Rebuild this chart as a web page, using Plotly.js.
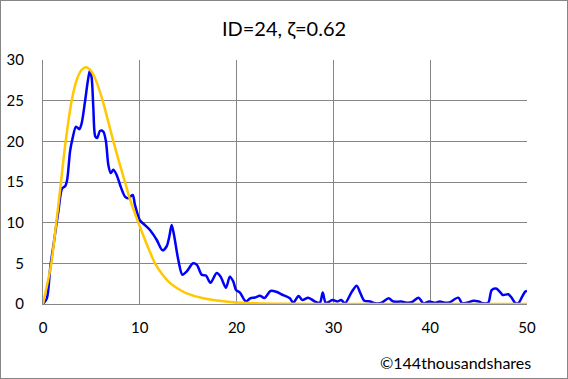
<!DOCTYPE html>
<html>
<head>
<meta charset="utf-8">
<script src="https://cdn.plot.ly/plotly-3.0.1.min.js"></script>
<style>
html,body{margin:0;padding:0;background:#fff;}
#wrap{position:relative;width:568px;height:379px;}
#chart{width:568px;height:379px;}
#frame{position:absolute;left:0;top:0;width:568px;height:379px;box-sizing:border-box;border:1px solid #868686;pointer-events:none;}
</style>
</head>
<body>
<div id="wrap"><div id="chart"></div><div id="frame"></div></div>
<script>
// Observed (blue) series
const blueX = [0,0.4,0.76,1.1,1.6,1.97,2.3,2.5,2.8,3.06,3.41,3.75,3.99,4.34,4.68,4.85,5.03,5.2,5.4,5.6,5.9,6.23,6.5,6.75,7.0,7.26,7.6,8.0,8.47,8.8,9.26,9.5,10.0,10.53,11.05,11.74,12.35,12.78,13.05,13.29,13.53,13.98,14.4,14.85,15.5,15.9,16.4,16.84,17.3,17.94,18.35,18.9,19.3,19.66,19.94,20.35,20.97,21.4,21.9,22.4,22.9,23.5,24.1,24.8,25.5,25.86,26.4,26.8,27.4,28.1,28.6,28.9,29.2,29.6,29.9,30.4,30.8,31.2,31.9,32.4,32.8,33.2,33.8,34.3,35.0,35.7,36.2,37.0,37.7,38.2,38.8,39.3,39.9,40.5,41.0,41.5,42.0,42.9,43.3,43.8,44.5,45.0,45.5,46.0,46.35,46.8,47.2,47.5,48.07,48.4,48.76,49.1,49.5,49.8,50];
const blueY = [0,0.7,4.6,7.4,11.5,14.2,14.5,15.3,18.8,20.4,21.8,21.5,22.2,24.9,27.8,28.7,27.8,24.1,20.6,20.4,21.3,21.2,20.0,17.1,16.1,16.5,15.9,14.5,13.2,13.0,13.4,12.2,10.3,9.7,9.1,7.9,6.6,7.1,8.3,9.7,8.5,5.4,3.6,4.0,5.0,4.8,3.6,3.5,2.6,3.8,3.35,2.0,3.35,2.75,1.73,1.4,0.3,0.7,0.8,1.0,0.75,1.6,1.5,1.1,0.7,0.16,0.98,0.5,0.78,0.3,0.16,1.4,0.16,0.3,0.5,0.3,0.5,0.08,1.5,2.25,1.3,0.4,0.3,0.08,0.16,0.7,0.3,0.3,0.16,0.3,0.78,0.08,0.3,0.16,0.3,0.16,0.2,0.78,0.08,0.16,0.4,0.3,0.08,0.16,1.7,1.9,1.5,1.1,1.2,0.8,0.16,0.08,0.9,1.5,1.6];
// Fitted (yellow) curve
const yelX = [0,0.45,0.86,1.37,1.65,1.86,2.34,2.96,3.5,4.0,4.44,5.0,5.5,6.16,6.7,7.27,7.9,8.47,9.0,9.85,10.5,11.05,11.57,12.3,13.1,14.0,14.85,16.56,19.3,22,25,30,40,50];
const yelY = [0,2.5,5,10,12.8,15,20,25,27.6,28.8,29.1,28.6,27.4,25,22.6,20,17.3,15,12.8,10,8.0,6.4,5,3.7,2.6,1.85,1.3,0.7,0.25,0.08,0.02,0,0,0];
const xTicks = [0,10,20,30,40,50];
const yTicks = [0,5,10,15,20,25,30];
const titleText = 'ID=24, ζ=0.62';
const creditText = '©144thousandshares';

const FONT = 'Lato, "Open Sans", "Liberation Sans", sans-serif';
const grid = '#868686';

const traces = [
  {x: blueX, y: blueY, type: 'scatter', mode: 'lines',
   line: {color: '#0000FF', width: 2.5, shape: 'spline', smoothing: 0.8}, hoverinfo: 'skip'},
  {x: yelX, y: yelY, type: 'scatter', mode: 'lines',
   line: {color: '#FFC800', width: 2.5, shape: 'spline', smoothing: 0.8}, hoverinfo: 'skip'}
];

const layout = {
  width: 568, height: 379,
  margin: {l: 43, r: 41, t: 60, b: 75},
  paper_bgcolor: '#fff', plot_bgcolor: '#fff',
  showlegend: false,
  font: {family: FONT, color: '#000', size: 15},
  title: {text: titleText, x: 0.5, xanchor: 'center', y: 1 - 29/379, yanchor: 'middle', yref: 'container',
          font: {family: FONT, size: 20, color: '#000'}},
  xaxis: {range: [0, 50], tickvals: xTicks, ticktext: xTicks.map(String), showgrid: true, gridcolor: grid, gridwidth: 1,
          showline: true, linecolor: grid, linewidth: 1, zeroline: false, ticks: '', ticklabelstandoff: 10,
          tickfont: {family: FONT, size: 15, color: '#000'}, fixedrange: true},
  yaxis: {range: [0, 30], tickvals: yTicks, ticktext: yTicks.map(String), showgrid: true, gridcolor: grid, gridwidth: 1,
          showline: true, linecolor: grid, linewidth: 1, zeroline: false, ticks: '', ticklabelstandoff: 15,
          tickfont: {family: FONT, size: 15, color: '#000'}, fixedrange: true},
  annotations: [{text: creditText, xref: 'paper', yref: 'paper', x: 1.012, xanchor: 'right', y: -58/244, yanchor: 'middle',
                 showarrow: false, font: {family: FONT, size: 16, color: '#000'}}]
};

Plotly.newPlot('chart', traces, layout, {staticPlot: true, displayModeBar: false});
</script>
</body>
</html>
